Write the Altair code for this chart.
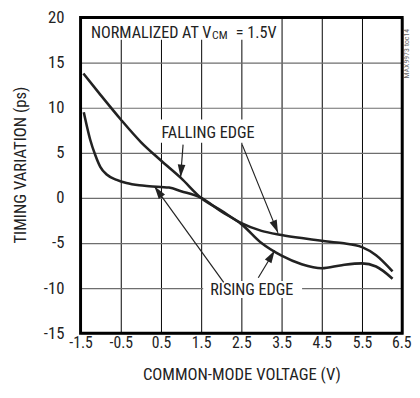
import math
import altair as alt
import pandas as pd

# ---- data ----
fall_x = [-1.43, -1.0, -0.5, 0.0, 0.5, 1.0, 1.5, 2.0, 2.5, 3.0, 3.5, 4.0, 4.5, 5.0, 5.5, 5.85, 6.26]
fall_y = [13.8, 11.4, 8.7, 6.2, 4.15, 2.2, 0.0, -1.4, -2.8, -3.65, -4.1, -4.45, -4.75, -5.0, -5.45, -6.35, -8.14]

rise_x = [-1.42, -1.34, -1.26, -1.13, -1.01, -0.85, -0.6, -0.36, -0.04, 0.21, 0.7, 1.0, 1.5,
          2.0, 2.5, 3.0, 3.5, 4.0, 4.5, 5.0, 5.5, 5.85, 6.26]
rise_y = [9.5, 7.9, 6.45, 4.7, 3.45, 2.6, 2.0, 1.65, 1.4, 1.3, 1.15, 0.75, 0.0,
          -1.5, -2.9, -5.0, -6.4, -7.35, -7.8, -7.45, -7.25, -7.6, -8.95]

x_ticks = [-1.5, -0.5, 0.5, 1.5, 2.5, 3.5, 4.5, 5.5, 6.5]
y_ticks = [-15, -10, -5, 0, 5, 10, 15, 20]

# annotation arrows (data units): start -> tip
arrow_id = ["f1", "f2", "r1", "r2"]
arrow_x0 = [1.05, 2.52, 2.06, 2.92]
arrow_y0 = [5.91, 5.91, -9.35, -8.85]
arrow_x1 = [0.988, 3.41, 0.337, 3.33]
arrow_y1 = [2.29, -3.87, 1.29, -5.82]

# white label boxes (data units)
box_x1 = [-1.5, 0.40, 1.55]
box_x2 = [3.42, 2.96, 4.01]
box_y1 = [17.55, 6.13, -11.1]
box_y2 = [20.0, 8.69, -9.2]

# text labels
label_text = ["NORMALIZED AT V", "CM", "= 1.5V", "FALLING EDGE", "RISING EDGE"]
label_x = [1.751, 1.77, 2.36, 1.67, 2.76]
label_y = [17.75, 17.6, 17.75, 6.66, -10.81]
label_size = [16.5, 12, 16.5, 16.5, 16.5]
label_align = ["right", "left", "left", "center", "center"]

W, H = 328, 322
XD = [-1.5, 6.5]
YD = [-15, 20]
FONT = "Roboto Condensed, DejaVu Sans Condensed, Liberation Sans Narrow, Roboto"
INK = "#222222"

px_x = W / (XD[1] - XD[0])
px_y = H / (YD[1] - YD[0])

curves = pd.DataFrame(
    {"x": fall_x + rise_x,
     "y": fall_y + rise_y,
     "s": ["fall"] * len(fall_x) + ["rise"] * len(rise_x),
     "o": list(range(len(fall_x))) + list(range(len(rise_x)))}
)

arrow_lines = pd.DataFrame(
    {"x": arrow_x0 + arrow_x1,
     "y": arrow_y0 + arrow_y1,
     "id": arrow_id + arrow_id,
     "o": [0] * 4 + [1] * 4}
)
angles = []
for a in range(4):
    dx = (arrow_x1[a] - arrow_x0[a]) * px_x
    dy = -(arrow_y1[a] - arrow_y0[a]) * px_y
    angles.append(math.degrees(math.atan2(dx, -dy)) % 360)
heads = pd.DataFrame({"x": arrow_x1, "y": arrow_y1, "ang": angles})

boxes = pd.DataFrame({"x": box_x1, "x2": box_x2, "y": box_y1, "y2": box_y2})
labels = pd.DataFrame({"t": label_text, "x": label_x, "y": label_y})

xs = alt.Scale(domain=XD, nice=False, zero=False)
ys = alt.Scale(domain=YD, nice=False, zero=False)

xaxis = alt.Axis(values=x_ticks, labelExpr="'' + datum.value", grid=True, gridColor="#000000",
                 gridWidth=1, ticks=False, domain=False, labelFont=FONT, labelFontSize=16,
                 labelColor=INK, labelPadding=2, labelFlush=False, labelOverlap=False,
                 labelOffset={"condition": {"test": "datum.value == 6.5", "value": -1}, "value": 0},
                 title="COMMON-MODE VOLTAGE (V)",
                 titleFont=FONT, titleFontSize=17, titleFontWeight="normal", titleColor=INK,
                 titleBaseline="middle", titleY=42, titleX=164)
yaxis = alt.Axis(values=y_ticks, labelExpr="'' + datum.value", grid=True, gridColor="#6e6e6e",
                 gridWidth=1.2, ticks=False, domain=False, labelFont=FONT, labelFontSize=17,
                 labelColor=INK, labelPadding=17, labelFlush=False, labelOverlap=False,
                 title="TIMING VARIATION (ps)",
                 titleFont=FONT, titleFontSize=17, titleFontWeight="normal", titleColor=INK,
                 titleBaseline="middle", titleX=-61, titleY=150, titleAngle=270)

base_curve = alt.Chart(curves).mark_line(interpolate="monotone", color=INK, strokeWidth=2.6).encode(
    x=alt.X("x:Q", scale=xs, axis=xaxis),
    y=alt.Y("y:Q", scale=ys, axis=yaxis),
    detail="s:N",
    order="o:Q",
)

box_layer = alt.Chart(boxes).mark_rect(fill="white", stroke=None).encode(
    x=alt.X("x:Q", scale=xs), x2="x2:Q", y=alt.Y("y:Q", scale=ys), y2="y2:Q"
)

arrow_layer = alt.Chart(arrow_lines).mark_line(color=INK, strokeWidth=1.2).encode(
    x=alt.X("x:Q", scale=xs), y=alt.Y("y:Q", scale=ys), detail="id:N", order="o:Q"
)

head_layer = alt.Chart(heads).mark_point(
    shape="M0,0L-0.6,2L0.6,2Z", filled=True, color=INK, opacity=1, size=169, strokeWidth=0
).encode(
    x=alt.X("x:Q", scale=xs), y=alt.Y("y:Q", scale=ys), angle=alt.Angle("ang:Q", scale=None)
)

text_layers = []
for i in range(len(label_text)):
    text_layers.append(
        alt.Chart(labels.iloc[[i]]).mark_text(
            font=FONT, fontSize=label_size[i], color=INK, align=label_align[i], baseline="alphabetic"
        ).encode(x=alt.X("x:Q", scale=xs), y=alt.Y("y:Q", scale=ys), text="t:N")
    )

wm = pd.DataFrame({"t": ["MAX9973 toc14"], "x": [6.62], "y": [16.0]})
wm_layer = alt.Chart(wm).mark_text(font=FONT, fontSize=8, color="#666666", angle=270,
                                   align="center", baseline="middle").encode(
    x=alt.X("x:Q", scale=xs), y=alt.Y("y:Q", scale=ys), text="t:N"
)

frame = pd.DataFrame({"x": [XD[0]], "x2": [XD[1]], "y": [YD[0]], "y2": [YD[1]]})
frame_layer = alt.Chart(frame).mark_rect(fill=None, stroke="#000000", strokeWidth=3).encode(
    x=alt.X("x:Q", scale=xs), x2="x2:Q", y=alt.Y("y:Q", scale=ys), y2="y2:Q"
)

chart = alt.layer(
    base_curve, box_layer, arrow_layer, head_layer, *text_layers, wm_layer, frame_layer
).properties(
    width=W, height=H,
    autosize=alt.AutoSizeParams(type="none"),
    padding={"left": 74, "top": 6, "right": 10, "bottom": 48},
).configure_view(stroke=None).configure(background="white")

chart.save("out.html", embed_options={"renderer": "svg", "actions": False})
